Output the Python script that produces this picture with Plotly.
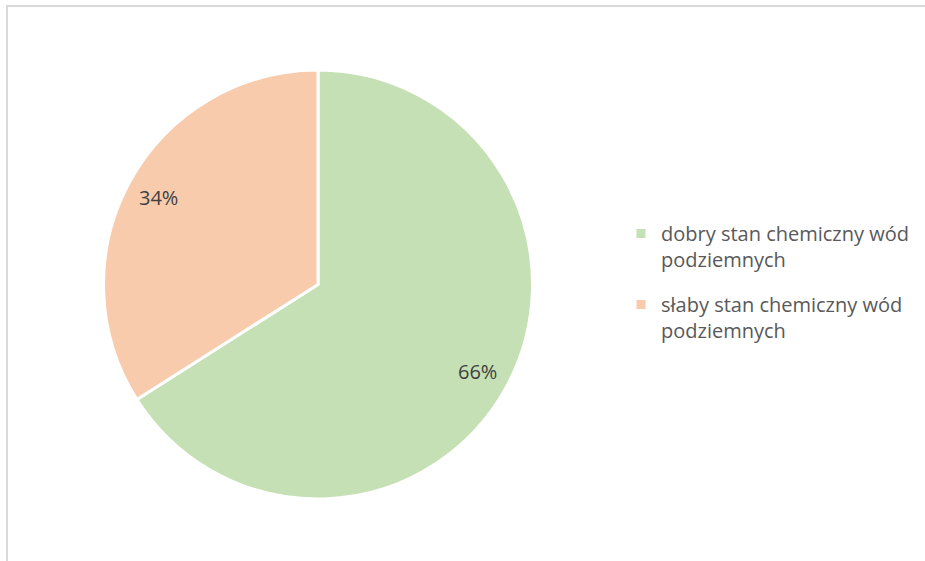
import math
import plotly.graph_objects as go

# Data
labels = ['dobry stan chemiczny wód<br>podziemnych', 'słaby stan chemiczny wód<br>podziemnych']
values = [66, 34]
colors = ['#C5E0B4', '#F8CBAD']

W, H = 925, 561
cx, cy, R = 318, 284.5, 214.5

fig = go.Figure()
fig.add_trace(go.Pie(
    labels=labels,
    values=values,
    sort=False,
    direction='clockwise',
    rotation=0,
    marker=dict(colors=colors, line=dict(color='white', width=3)),
    textinfo='none',
    hoverinfo='label+percent',
    showlegend=False,
    domain=dict(x=[(cx - R) / W, (cx + R) / W], y=[1 - (cy + R) / H, 1 - (cy - R) / H]),
))

# legend entries (square markers, Excel style) - separate groups so the gap can be set
for i, (lab, col) in enumerate(zip(labels, colors)):
    fig.add_trace(go.Scatter(x=[None], y=[None], mode='markers', name=lab,
                             marker=dict(symbol='square', size=9, color=col),
                             legendgroup=f'g{i}', hoverinfo='skip'))

# percentage labels placed near the outer part of each slice, like in Excel
total = sum(values)
start = 0
for v in values:
    mid = (start + v / 2) / total * 2 * math.pi
    start += v
    px_ = cx + 0.846 * R * math.sin(mid)
    py_ = cy - 0.846 * R * math.cos(mid)
    fig.add_annotation(x=px_ / W, y=1 - py_ / H, xref='paper', yref='paper',
                       xanchor='center', yanchor='middle',
                       text=f"{round(v / total * 100)}%", showarrow=False,
                       font=dict(size=20, color='#404040'))

# chart frame: only the left and top edges are in view
frame = dict(color='#D9D9D9', width=2)
fig.add_shape(type='line', xref='paper', yref='paper',
              x0=7 / W, x1=7 / W, y0=0, y1=1 - 5 / H, line=frame)
fig.add_shape(type='line', xref='paper', yref='paper',
              x0=6 / W, x1=1, y0=1 - 6 / H, y1=1 - 6 / H, line=frame)

fig.update_layout(
    width=W, height=H,
    margin=dict(l=0, r=0, t=0, b=0),
    paper_bgcolor='white',
    plot_bgcolor='white',
    xaxis=dict(visible=False, fixedrange=True),
    yaxis=dict(visible=False, fixedrange=True),
    font=dict(family='Open Sans, sans-serif', size=20, color='#595959'),
    showlegend=True,
    legend=dict(x=621 / W, y=1 - 214 / H, xanchor='left', yanchor='top',
                bgcolor='rgba(0,0,0,0)',
                font=dict(size=20, color='#595959'), tracegroupgap=16,
                valign='top', itemsizing='trace'),
)

fig.write_html("out.html", config={'displayModeBar': False, 'staticPlot': True},
               post_script="document.documentElement.style.overflow='hidden';"
                           "document.body.style.margin='0px';document.body.style.overflow='hidden';")
